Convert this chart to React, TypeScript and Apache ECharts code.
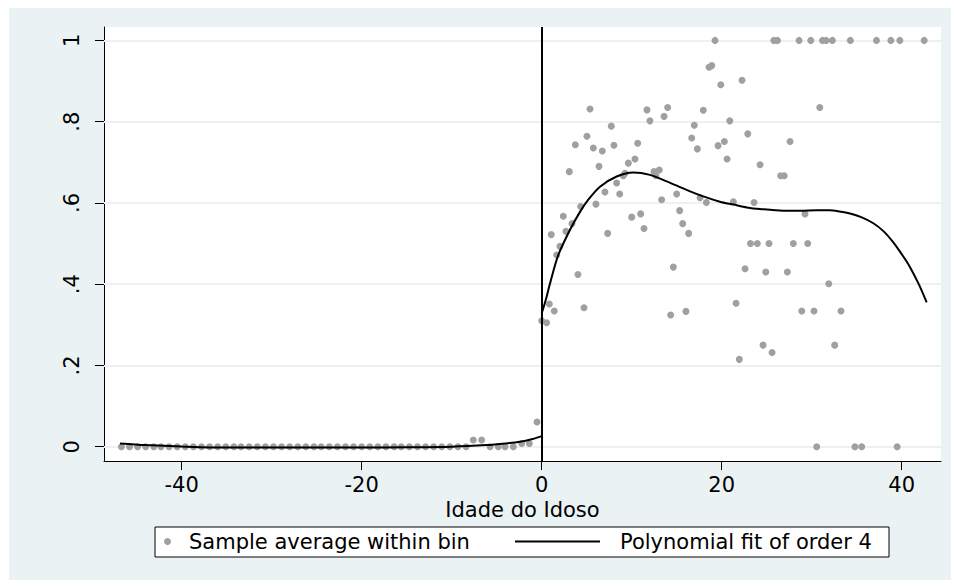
import React, { useEffect, useRef } from "react";
import * as echarts from "echarts";

// ---- Data ----
const leftBinX = [
  -46.7, -45.8, -44.9, -44.0, -43.1, -42.3, -41.4, -40.5, -39.6, -38.7, -37.8,
  -36.9, -36.0, -35.1, -34.2, -33.4, -32.5, -31.6, -30.7, -29.8, -28.9, -28.0,
  -27.1, -26.2, -25.3, -24.5, -23.6, -22.7, -21.8, -20.9, -20.0, -19.1, -18.2,
  -17.3, -16.4, -15.6, -14.7, -13.8, -12.9, -12.0, -11.1, -10.2, -9.3, -8.4,
  -7.6, -6.67, -5.74, -4.82, -4.07, -3.15, -2.22, -1.37, -0.52,
];
const leftBinY = [
  0, 0, 0, 0, 0, 0, 0, 0, 0, 0, 0, 0, 0, 0, 0, 0, 0, 0, 0, 0, 0, 0, 0, 0, 0, 0,
  0, 0, 0, 0, 0, 0, 0, 0, 0, 0, 0, 0, 0, 0, 0, 0, 0, 0,
  0.0165, 0.0165, 0, 0, 0, 0, 0.008, 0.008, 0.061,
];
const rightBinX = [
  0.0, 0.55, 0.85, 1.4, 1.07, 1.67, 2.03, 2.4, 2.7, 3.07, 3.37, 3.74, 4.03, 4.33,
  4.7, 5.03, 5.37, 5.74, 6.03, 6.37, 6.74, 7.03, 7.33, 7.74, 8.03, 8.33, 8.67,
  9.07, 9.26, 9.63, 10.0, 10.37, 10.67, 11.0, 11.37, 11.7, 12.03, 12.48, 12.7,
  13.07, 13.33, 13.6, 14.0, 14.33, 14.63, 15.0, 15.33, 15.67, 16.03, 16.33,
  16.67, 16.96, 17.3, 17.6, 17.96, 18.3, 18.6, 18.9, 19.26, 19.6, 19.9, 20.3,
  20.6, 20.9, 21.3, 21.6, 21.96, 22.26, 22.6, 22.9, 23.2, 23.6, 23.96, 24.26,
  24.6, 24.9, 25.26, 25.6, 25.8, 26.2, 26.55, 26.95, 27.3, 27.6, 27.96, 28.6,
  28.9, 29.26, 29.56, 29.9, 30.26, 30.56, 30.9, 31.2, 31.6, 31.9, 32.3, 32.56,
  33.26, 34.3, 34.8, 35.56, 37.2, 38.8, 39.5, 39.8, 42.5,
];
const rightBinY = [
  0.31, 0.305, 0.351, 0.334, 0.522, 0.472, 0.493, 0.567, 0.53, 0.677, 0.549,
  0.743, 0.424, 0.591, 0.342, 0.764, 0.831, 0.735, 0.597, 0.69, 0.728, 0.627,
  0.525, 0.789, 0.742, 0.649, 0.622, 0.667, 0.673, 0.698, 0.565, 0.708, 0.747,
  0.573, 0.537, 0.829, 0.802, 0.677, 0.667, 0.681, 0.608, 0.813, 0.835, 0.324,
  0.442, 0.622, 0.581, 0.549, 0.333, 0.525, 0.76, 0.791, 0.733, 0.613, 0.828,
  0.601, 0.934, 0.938, 1.0, 0.741, 0.891, 0.751, 0.708, 0.802, 0.603, 0.353,
  0.215, 0.902, 0.438, 0.77, 0.5, 0.601, 0.5, 0.694, 0.25, 0.43, 0.5, 0.232,
  1.0, 1.0, 0.667, 0.667, 0.43, 0.751, 0.5, 1.0, 0.334, 0.573, 0.5, 1.0, 0.334,
  0.0, 0.835, 1.0, 1.0, 0.401, 1.0, 0.25, 0.334, 1.0, 0.0, 0.0, 1.0, 1.0, 0.0,
  1.0, 1.0,
];
const fitLeftX = [-46.85, -44, -40, -35, -30, -25, -20, -15, -10, -6.1, -4, -2.4, -1, 0];
const fitLeftY = [0.008, 0.004, 0.0005, -0.002, -0.002, -0.002, -0.002, -0.0015, 0.0, 0.004, 0.008, 0.012, 0.019, 0.026];
const fitRightX = [
  0, 0.5, 0.93, 1.85, 3.15, 4.26, 5.18, 6.48, 8.33, 10.18, 12.03, 13.9, 16.1,
  17.96, 19.8, 21.3, 22.8, 24.26, 26.85, 28.7, 30.56, 32.0, 33.1, 34.26, 35.5,
  36.85, 38.0, 39.07, 40.0, 40.9, 41.9, 42.78,
];
const fitRightY = [
  0.328, 0.365, 0.402, 0.472, 0.534, 0.578, 0.608, 0.64, 0.665, 0.675, 0.669,
  0.653, 0.632, 0.616, 0.603, 0.596, 0.589, 0.585, 0.581, 0.581, 0.582, 0.582,
  0.579, 0.574, 0.565, 0.55, 0.53, 0.503, 0.474, 0.443, 0.4, 0.355,
];
const xTicks = [-40, -20, 0, 20, 40];
const yTicks = [0, 0.2, 0.4, 0.6, 0.8, 1];
const xTitle = "Idade do Idoso";
const scatterName = "Sample average within bin";
const fitName = "Polynomial fit of order 4";

const FONT = "DejaVu Sans";
const FS = 21;

export default function App() {
  const ref = useRef<HTMLDivElement>(null);
  useEffect(() => {
    if (!ref.current) return;
    const chart = echarts.init(ref.current, undefined, { renderer: "svg" });
    const scatterData = [
      ...leftBinX.map((x, i) => [x, leftBinY[i]]),
      ...rightBinX.map((x, i) => [x, rightBinY[i]]),
    ];
    const option: any = {
      animation: false,
      backgroundColor: "#ffffff",
      textStyle: { fontFamily: FONT },
      graphic: [
        {
          type: "rect",
          z: -10,
          silent: true,
          shape: { x: 9, y: 8, width: 942, height: 572 },
          style: { fill: "#eaf2f3" },
        },
        {
          type: "rect",
          z: 0,
          silent: true,
          shape: { x: 155, y: 527, width: 734, height: 30 },
          style: { fill: "#ffffff", stroke: "#000000", lineWidth: 1 },
        },
      ],
      grid: {
        left: 104,
        right: 13,
        top: 27,
        bottom: 126,
        show: true,
        backgroundColor: "#ffffff",
        borderWidth: 0,
        containLabel: false,
        outerBoundsMode: "none",
      },
      legend: [
        {
          data: [{ name: scatterName, icon: "circle" }],
          left: 164,
          top: 531,
          padding: 0,
          itemWidth: 7,
          itemHeight: 7,
          selectedMode: false,
          itemStyle: { color: "#a0a0a0" },
          textStyle: { color: "#000", fontSize: FS, fontFamily: FONT, padding: [0, 0, 0, 13] },
        },
        {
          data: [{ name: fitName, icon: "rect" }],
          left: 515,
          top: 531,
          padding: 0,
          itemWidth: 85,
          itemHeight: 2,
          selectedMode: false,
          itemStyle: { color: "#000" },
          textStyle: { color: "#000", fontSize: FS, fontFamily: FONT, padding: [0, 0, 0, 15] },
        },
      ],
      xAxis: {
        type: "value",
        min: -48.63,
        max: 44.37,
        name: xTitle,
        nameLocation: "middle",
        nameGap: 33,
        nameTextStyle: { color: "#000", fontSize: FS, fontFamily: FONT },
        axisLine: { show: true, onZero: false, lineStyle: { color: "#000", width: 1 } },
        axisTick: { show: true, length: 9, customValues: xTicks, lineStyle: { color: "#000", width: 1 } },
        axisLabel: {
          customValues: xTicks,
          margin: 13,
          color: "#000",
          fontSize: FS,
          fontFamily: FONT,
          formatter: (v: number) => String(v),
        },
        splitLine: { show: false },
      },
      yAxis: {
        type: "value",
        min: -0.0352,
        max: 1.033,
        axisLine: { show: true, onZero: false, lineStyle: { color: "#000", width: 1 } },
        axisTick: { show: true, length: 9, customValues: yTicks, lineStyle: { color: "#000", width: 1 } },
        axisLabel: {
          customValues: yTicks,
          rotate: 90,
          margin: 22,
          color: "#000",
          fontSize: FS,
          fontFamily: FONT,
          formatter: (v: number) =>
            v === 0 ? "0" : v === 1 ? "1" : v.toFixed(1).replace(/^0/, ""),
        },
        splitLine: { show: false },
      },
      series: [
        {
          type: "line",
          name: "grid",
          data: [],
          z: 1,
          silent: true,
          markLine: {
            silent: true,
            symbol: "none",
            z: 1,
            label: { show: false },
            emphasis: { disabled: true },
            lineStyle: { color: "#eaf2f3", width: 2, type: "solid" },
            data: yTicks.map((v) => ({ yAxis: v })),
          },
        },
        {
          type: "scatter",
          name: scatterName,
          data: scatterData,
          symbol: "circle",
          symbolSize: 7,
          z: 2,
          itemStyle: { color: "#a0a0a0", opacity: 1 },
          emphasis: { disabled: true },
        },
        {
          type: "line",
          name: fitName,
          data: fitLeftX.map((x, i) => [x, fitLeftY[i]]),
          showSymbol: false,
          symbol: "none",
          smooth: 0.3,
          z: 3,
          lineStyle: { color: "#000", width: 2 },
          emphasis: { disabled: true },
          markLine: {
            silent: true,
            symbol: "none",
            label: { show: false },
            emphasis: { disabled: true },
            lineStyle: { color: "#000", width: 2, type: "solid" },
            data: [{ xAxis: 0 }],
          },
        },
        {
          type: "line",
          name: fitName,
          data: fitRightX.map((x, i) => [x, fitRightY[i]]),
          showSymbol: false,
          symbol: "none",
          smooth: 0.3,
          z: 3,
          lineStyle: { color: "#000", width: 2 },
          emphasis: { disabled: true },
        },
      ],
    };
    chart.setOption(option);
    return () => chart.dispose();
  }, []);
  return (
    <div
      ref={ref}
      style={{ position: "fixed", left: 0, top: 0, width: 954, height: 587 }}
    />
  );
}
